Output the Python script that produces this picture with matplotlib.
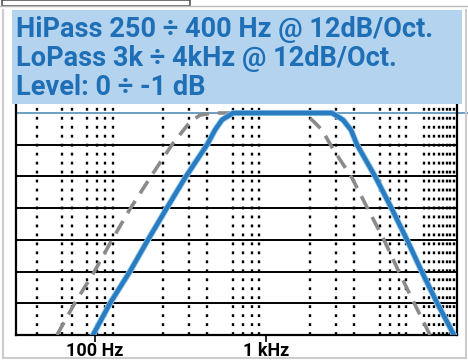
import matplotlib
matplotlib.use("Agg")
from matplotlib import pyplot as plt
from matplotlib.patches import Rectangle
from matplotlib.lines import Line2D
import matplotlib.patheffects as pe

# curves (Hz, dB)
blue_f = [66.8, 87.2, 119, 158, 210, 282, 399, 452, 504, 599,
          2822, 3354, 3800, 4176, 5624, 7224, 9138, 11560, 14620, 19080]
blue_db = [-42, -36, -30, -24, -18.2, -12.3, -6, -3.2, -1.3, 0,
           0, -1.3, -3.2, -6, -12.3, -18.2, -24, -30.1, -35.9, -42]

gray_f = [38, 50.4, 67.9, 90, 119, 163, 230, 305, 357, 438,
          1793, 2063, 2413, 2868, 3862, 4962, 6374, 8064, 10200, 13100]
gray_db = [-42, -35.9, -30.1, -24, -18.2, -12.3, -6, -1.7, -0.4, 0,
           0, -1.3, -3.2, -6.8, -12.3, -18.2, -24, -30.1, -35.9, -42]

# grid as drawn by the app
vgrid = [28, 41, 48, 61, 71, 81, 91,
         200, 300, 400, 600, 700, 800, 900,
         2000, 3000, 4000, 6000, 7000, 8000, 9000,
         12000, 13000, 14000, 15000, 16000, 17000, 18000, 19000]
hgrid = [-6, -12, -18, -24, -30, -36]
tick_pos = [69, 1000]
tick_labels = ["100 Hz", "1 kHz"]

header = ["HiPass 250 \u00f7 400 Hz @ 12dB/Oct.",
          "LoPass 3k \u00f7 4kHz @ 12dB/Oct.",
          "Level: 0 \u00f7 -1 dB"]

plt.rcParams['font.family'] = ['Roboto', 'DejaVu Sans']

fig = plt.figure(figsize=(4.68, 3.62), dpi=100)
fig.patch.set_facecolor('white')

W, H = 468.0, 362.0
def fx(px): return px / W
def fy(py): return 1 - py / H

# outer frame bits of the screenshot
fig.add_artist(Line2D([fx(0), fx(468)], [fy(6), fy(6)], color='#bbbbbb', lw=1))
fig.add_artist(Rectangle((fx(2), fy(6)), fx(188), fy(0) - fy(6), fill=False,
                         ec='#555555', lw=1.2))
fig.add_artist(Line2D([fx(3), fx(3)], [fy(10), fy(358)], color='#cccccc', lw=1.5))
fig.add_artist(Line2D([fx(3), fx(466)], [fy(358), fy(358)], color='#cccccc', lw=1.5))
fig.add_artist(Line2D([fx(466), fx(466)], [fy(10), fy(358)], color='#cccccc', lw=1.5))

ax = fig.add_axes([fx(16), fy(335), fx(457) - fx(16), fy(104) - fy(335)])
ax.set_xscale('log')
ax.set_xlim(20, 20000)
ax.set_ylim(-42, 1.7)

for f in vgrid:
    ax.axvline(f, color='black', lw=1.7, ls=(0, (1.2, 2.6)), zorder=1)
for d in hgrid:
    ax.axhline(d, color='black', lw=1.4, zorder=1)
ax.axhline(0, xmin=0, xmax=1.025, color='#5f97bd', lw=1.3, clip_on=False, zorder=2)

ax.plot(gray_f, gray_db, color='#8a8a8a', lw=2.6, ls=(0, (4, 2.5)), zorder=3)
ax.plot(blue_f, blue_db, color='#2a7cc0', lw=3.2, zorder=4,
        path_effects=[pe.Stroke(linewidth=4.4, foreground='#8fc6ee'), pe.Normal()])

ax.set_xticks(tick_pos)
ax.set_xticklabels(tick_labels, fontsize=13, fontweight='bold')
ax.xaxis.set_minor_locator(matplotlib.ticker.NullLocator())
ax.tick_params(axis='x', direction='out', length=5, width=1.2, pad=0)
ax.set_yticks([])
for s in ['left', 'bottom', 'right']:
    ax.spines[s].set_linewidth(1.6)
    ax.spines[s].set_color('black')
ax.spines['top'].set_visible(False)

# header box with the filter settings
fig.add_artist(Rectangle((fx(12), fy(104)), fx(462) - fx(12), fy(10) - fy(104),
                         fc='#b4d3ee', ec='none', zorder=10))
for i, line in enumerate(header):
    fig.text(fx(16), fy(37 + i * 29), line, fontsize=19.5, fontweight='bold',
             color='#1f6fb6', ha='left', va='baseline', zorder=11)

fig.savefig('out.png', dpi=100)
